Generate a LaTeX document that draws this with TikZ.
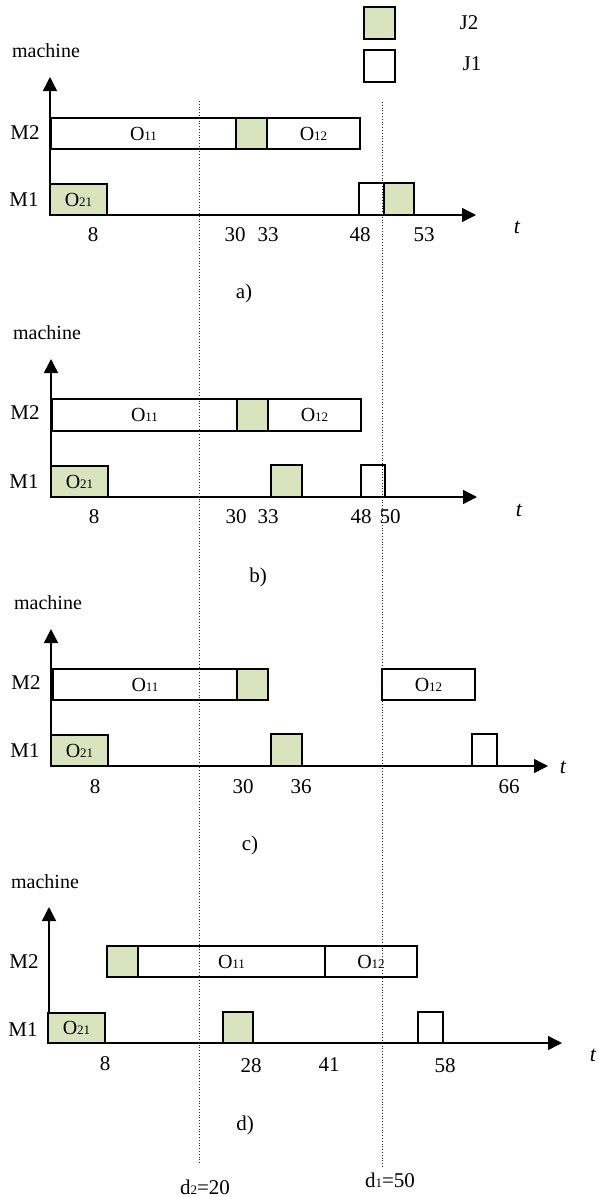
\documentclass[tikz,border=0pt]{standalone}
\usepackage{fontspec}
\setmainfont{Liberation Serif}
\usetikzlibrary{arrows.meta,fit}
\definecolor{jgreen}{RGB}{215,228,190}
% small digits set on the baseline (operation and due-date indices)
\newcommand\idx[1]{{\fontsize{13}{13}\selectfont #1}}
% \opbox{name}{x1}{y1}{x2}{y2}{style}{text}
\newcommand\opbox[7]{\node[#6, fit={(#2,#3) (#4,#5)},
  label={[opt]center:#7}] (#1) {};}

\begin{document}
\begin{tikzpicture}[x=1pt,y=-1pt,
  every node/.style={font=\fontsize{21}{24}\selectfont, inner sep=0pt},
  opb/.style={draw, line width=1.6pt, inner sep=0pt},
  opt/.style={font=\fontsize{20}{24}\selectfont, inner sep=0pt},
  jone/.style={opb, fill=white},
  jtwo/.style={opb, fill=jgreen},
  axis/.style={line width=1.4pt, -{Triangle[length=14pt,width=14pt]}},
  due/.style={line width=0.8pt, dotted, black!85},
  tlab/.style={font=\fontsize{22}{24}\selectfont\itshape},
  mlab/.style={font=\fontsize{20}{24}\selectfont}]
\useasboundingbox (0,0) rectangle (599,1197);

% ---------- legend ----------
\opbox{lgtwo}{364}{7}{395}{39}{jtwo}{}
\opbox{lgone}{364}{50}{395}{82}{jone}{}
\node (lgtwot) at (469,23) {J2};
\node (lgonet) at (472,64) {J1};

% ---------- schedule a) ----------
\coordinate (oa) at (50,215);
\coordinate (xa) at (476,215);
\coordinate (ya) at (50,77);
\draw[axis] (oa) -- (xa);
\draw[axis] (oa) -- (ya);
\node[mlab] (macha) at (46,51) {machine};
\node (m2a) at (25,133) {M2};
\node (m1a) at (24,200) {M1};
\opbox{oaa}{51}{118}{236}{149}{jone}{O\idx{11}}
\opbox{gaa}{236}{118}{267}{149}{jtwo}{}
\opbox{oab}{267}{118}{360}{149}{jone}{O\idx{12}}
\opbox{oac}{50}{184}{107}{215}{jtwo}{O\idx{21}}
\opbox{wab}{359}{183}{384}{215}{jone}{}
\opbox{gab}{384}{183}{414}{215}{jtwo}{}
\node (ta8) at (93,235) {8};
\node (ta30) at (235,235) {30};
\node (ta33) at (268,235) {33};
\node (ta48) at (360,235) {48};
\node (ta53) at (424,235) {53};
\node[tlab] (tta) at (517,227) {t};
\node (capa) at (244,293) {a)};

% ---------- schedule b) ----------
\coordinate (ob) at (51,497);
\coordinate (xb) at (477,497);
\coordinate (yb) at (51,359);
\draw[axis] (ob) -- (xb);
\draw[axis] (ob) -- (yb);
\node[mlab] (machb) at (47,333) {machine};
\node (m2b) at (25,413) {M2};
\node (m1b) at (24,482) {M1};
\opbox{oba}{52}{399}{237}{431}{jone}{O\idx{11}}
\opbox{gba}{237}{399}{268}{431}{jtwo}{}
\opbox{obb}{268}{399}{361}{431}{jone}{O\idx{12}}
\opbox{obc}{51}{466}{108}{497}{jtwo}{O\idx{21}}
\opbox{gbb}{271}{465}{302}{497}{jtwo}{}
\opbox{wbb}{361}{465}{385}{497}{jone}{}
\node (tb8) at (94,517) {8};
\node (tb30) at (236,517) {30};
\node (tb33) at (268,517) {33};
\node (tb48) at (361,517) {48};
\node (tb50) at (390,517) {50};
\node[tlab] (ttb) at (519,510) {t};
\node (capb) at (258,577) {b)};

% ---------- schedule c) ----------
\coordinate (oc) at (51,766);
\coordinate (xc) at (548,766);
\coordinate (yc) at (51,629);
\draw[axis] (oc) -- (xc);
\draw[axis] (oc) -- (yc);
\node[mlab] (machc) at (48,603) {machine};
\node (m2c) at (26,683) {M2};
\node (m1c) at (25,751) {M1};
\opbox{oca}{53}{669}{237}{700}{jone}{O\idx{11}}
\opbox{gca}{237}{669}{268}{700}{jtwo}{}
\opbox{ocb}{382}{669}{475}{700}{jone}{O\idx{12}}
\opbox{occ}{51}{735}{108}{766}{jtwo}{O\idx{21}}
\opbox{gcb}{271}{734}{302}{766}{jtwo}{}
\opbox{wcb}{472}{734}{497}{766}{jone}{}
\node (tc8) at (95,787) {8};
\node (tc30) at (243,787) {30};
\node (tc36) at (301,787) {36};
\node (tc66) at (509,787) {66};
\node[tlab] (ttc) at (563,767) {t};
\node (capc) at (250,845) {c)};

% ---------- schedule d) ----------
\coordinate (od) at (49,1043);
\coordinate (xd) at (562,1043);
\coordinate (yd) at (49,907);
\draw[axis] (od) -- (xd);
\draw[axis] (od) -- (yd);
\node[mlab] (machd) at (45,882) {machine};
\node (m2d) at (24,962) {M2};
\node (m1d) at (23,1030) {M1};
\opbox{gda}{107}{946}{138}{977}{jtwo}{}
\opbox{oda}{138}{946}{325}{977}{jone}{O\idx{11}}
\opbox{odb}{325}{946}{417}{977}{jone}{O\idx{12}}
\opbox{odc}{48}{1013}{105}{1043}{jtwo}{O\idx{21}}
\opbox{gdb}{223}{1012}{253}{1043}{jtwo}{}
\opbox{wdb}{418}{1012}{443}{1043}{jone}{}
\node (td8) at (105,1064) {8};
\node (td28) at (251,1066) {28};
\node (td41) at (329,1065) {41};
\node (td58) at (445,1066) {58};
\node[tlab] (ttd) at (593,1055) {t};
\node (capd) at (245,1125) {d)};

% ---------- due dates ----------
\coordinate (dtwotop) at (199,101);
\coordinate (dtwobot) at (199,1165);
\coordinate (donetop) at (382,102);
\coordinate (donebot) at (382,1167);
\draw[due] (dtwotop) -- (dtwobot);
\draw[due] (donetop) -- (donebot);
\node (dtwo) at (205,1187) {d\idx{2}=20};
\node (done) at (390,1180) {d\idx{1}=50};
\end{tikzpicture}
\end{document}
